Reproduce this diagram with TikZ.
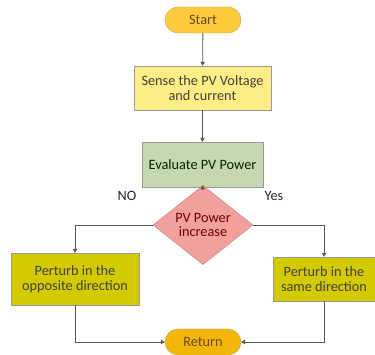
\documentclass[tikz,border=0pt]{standalone}
\usepackage{fontspec}
\setmainfont{Carlito}
\usetikzlibrary{shapes,arrows.meta,positioning,calc}

\definecolor{startfill}{HTML}{FFCB3C}
\definecolor{sensefill}{HTML}{FFEE85}
\definecolor{evalfill}{HTML}{C5D9AE}
\definecolor{decfill}{HTML}{F2A09B}
\definecolor{perturbfill}{HTML}{D3CA00}
\definecolor{retfill}{HTML}{F2B705}
\definecolor{linegray}{HTML}{5E554C}

\begin{document}
\begin{tikzpicture}[
    x=1pt, y=-1pt,
    every node/.style={font=\fontsize{14.3}{14.5}\selectfont, align=center, inner sep=1pt},
    terminal/.style={rounded rectangle, draw=orange!70!black!60, fill=#1, minimum width=78, minimum height=26, text=brown!55!black},
    box/.style={rectangle, draw=gray!80, fill=#1},
    decision/.style={diamond, draw=decfill!80!black, fill=decfill, minimum width=100, minimum height=62, inner sep=0pt, text=red!45!black},
    flow/.style={draw=linegray, line width=0.8pt, -{Triangle[length=4pt,width=4.5pt]}}
]

    % Frame
    \useasboundingbox (0,0) rectangle (375,355);

    % Nodes
    \node[terminal=startfill] (start) at (203,20) {Start};
    \node[box=sensefill, minimum width=137, minimum height=44, text=black!75!yellow!60!black] (sense) at (202.5,88) {Sense the PV Voltage\\and current};
    \node[box=evalfill, minimum width=121, minimum height=45, text=black!70!green!50!black] (eval) at (202.5,164.5) {Evaluate PV Power};
    \node[decision] (dec) at (203,225) {PV Power\\increase};
    \node[box=perturbfill, minimum width=128, minimum height=52, text=black!75] (opp) at (75,279) {Perturb in the\\opposite direction};
    \node[box=perturbfill, minimum width=102, minimum height=44, text=black!75] (same) at (324,279) {Perturb in the\\same direction};
    \node[terminal=retfill] (ret) at (203,342) {Return};

    % Labels
    \node[text=black!85] (no) at (127,196) {NO};
    \node[text=black!85] (yes) at (274,196) {Yes};

    % Connectors
    \draw[flow] (start) -- (sense);
    \draw[flow] (sense) -- (eval);
    \draw[flow] (eval) -- (dec);
    \draw[flow] (dec.west) -| (opp.north);
    \draw[flow] (dec.east) -| (same.north);
    \draw[flow] (opp.south) |- (ret.west);
    \draw[flow] (same.south) |- (ret.east);

\end{tikzpicture}
\end{document}
